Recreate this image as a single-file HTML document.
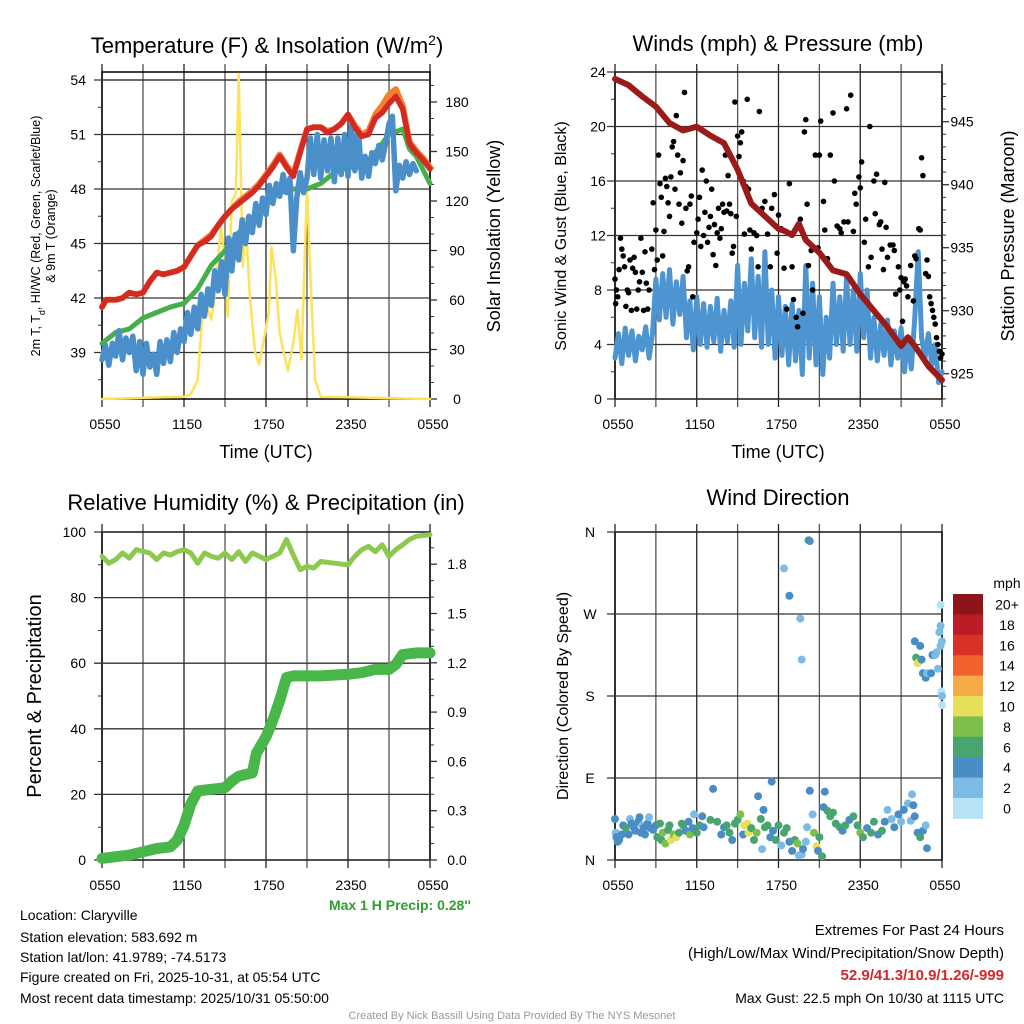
<!DOCTYPE html>
<html><head><meta charset="utf-8"><style>
html,body{margin:0;padding:0;background:#fff;}
svg{display:block;font-family:"Liberation Sans",Arial,sans-serif;}
</style></head><body>
<svg id="c" width="1024" height="1024" viewBox="0 0 1024 1024" xmlns="http://www.w3.org/2000/svg">
<rect x="0" y="0" width="1024" height="1024" fill="#fff"/>
<text x="267" y="53" font-size="22" text-anchor="middle">Temperature (F) &amp; Insolation (W/m<tspan baseline-shift="super" font-size="14">2</tspan>)</text>
<text x="778" y="51" font-size="22" text-anchor="middle">Winds (mph) &amp; Pressure (mb)</text>
<text x="266" y="510" font-size="22" text-anchor="middle">Relative Humidity (%) &amp; Precipitation (in)</text>
<text x="778" y="505" font-size="22" text-anchor="middle">Wind Direction</text>
<text x="266" y="458" font-size="18" text-anchor="middle">Time (UTC)</text>
<text x="778" y="458" font-size="18" text-anchor="middle">Time (UTC)</text>
<text transform="translate(40,236) rotate(-90)" font-size="12.5" text-anchor="middle">2m T, T<tspan baseline-shift="sub" font-size="9">d</tspan>, HI/WC (Red, Green, Scarlet/Blue)</text>
<text transform="translate(55,236) rotate(-90)" font-size="12.5" text-anchor="middle">&amp; 9m T (Orange)</text>
<text transform="translate(500,236) rotate(-90)" font-size="18" text-anchor="middle">Solar Insolation (Yellow)</text>
<text transform="translate(566,236) rotate(-90)" font-size="16" text-anchor="middle">Sonic Wind &amp; Gust (Blue, Black)</text>
<text transform="translate(1014,236) rotate(-90)" font-size="18" text-anchor="middle">Station Pressure (Maroon)</text>
<text transform="translate(41,696) rotate(-90)" font-size="20" text-anchor="middle">Percent &amp; Precipitation</text>
<text transform="translate(568,696) rotate(-90)" font-size="16" text-anchor="middle">Direction (Colored By Speed)</text>
<text x="471" y="910" font-size="14" font-weight="bold" fill="#2ca02c" text-anchor="end">Max 1 H Precip: 0.28''</text>
<g font-size="14">
<text x="20" y="920">Location: Claryville</text>
<text x="20" y="942">Station elevation: 583.692 m</text>
<text x="20" y="962">Station lat/lon: 41.9789; -74.5173</text>
<text x="20" y="982">Figure created on Fri, 2025-10-31, at 05:54 UTC</text>
<text x="20" y="1003">Most recent data timestamp: 2025/10/31 05:50:00</text>
</g>
<g font-size="15" text-anchor="end">
<text x="1004" y="935">Extremes For Past 24 Hours</text>
<text x="1004" y="958">(High/Low/Max Wind/Precipitation/Snow Depth)</text>
<text x="1004" y="980" font-weight="bold" fill="#d62728">52.9/41.3/10.9/1.26/-999</text>
<text x="1004" y="1003" font-size="14">Max Gust: 22.5 mph On 10/30 at 1115 UTC</text>
</g>
<text x="512" y="1019" font-size="11" fill="#999" text-anchor="middle">Created By Nick Bassill Using Data Provided By The NYS Mesonet</text>
<g id="layer"></g>
</svg>
<script>
// ---------- Panel 1 data ----------
const tempT = [0,0.3,1,1.5,2,2.5,3,3.5,4,4.5,5,5.5,6,6.5,7,7.5,8,8.5,9,9.5,10,10.5,11,11.5,12,12.5,13,13.5,14,14.5,15,15.5,16,16.5,17,17.5,18,18.5,19,19.5,20,20.5,21,21.5,22,22.5,23,23.5,24];
const temp2m = [41.5,41.9,41.9,42.0,42.3,42.2,42.3,42.9,43.4,43.3,43.4,43.5,43.7,44.3,44.9,45.1,45.4,46.0,46.5,46.9,47.2,47.5,47.8,48.2,48.7,49.2,49.8,49.2,48.7,50.0,51.3,51.4,51.4,51.1,51.3,51.6,52.1,51.4,50.9,51.0,51.9,52.2,52.7,53.1,52.4,50.5,50.0,49.6,49.1];
const temp9m = [41.5,41.9,41.9,42.0,42.3,42.2,42.3,42.9,43.4,43.3,43.4,43.5,43.7,44.3,44.9,45.2,45.5,46.0,46.5,46.9,47.3,47.6,47.9,48.3,48.8,49.3,49.9,49.3,48.8,50.1,51.3,51.4,51.4,51.2,51.3,51.6,52.1,51.5,51.0,51.2,52.1,52.6,53.2,53.5,52.6,50.6,50.1,49.7,49.2];
const dewT = [0,1,2,3,4,5,6,7,8,9,10,11,12,13,14,15,16,17,18,19,20,21,22,22.5,23,24];
const dewpoint = [39.5,40.1,40.3,40.9,41.2,41.5,41.7,42.5,43.8,44.6,45.6,46.3,47.2,47.8,48.0,48.0,48.3,48.9,49.2,49.2,50.0,51.0,51.3,50.2,49.8,48.3];
const heatIndex = [38.6,39.4,38.3,39.5, 38.8,40.2,38.6,39.8, 39.0,39.9,38.0,39.6, 37.8,39.5,38.2,38.9, 37.8,39.6,38.4,39.7, 38.5,40.1,39.0,40.3, 39.6,41.2,40.0,41.5, 40.3,42.2,41.0,42.5, 41.6,43.5,42.4,44.0, 42.2,45.3,43.5,45.5, 44.1,46.3,45.0,46.5, 45.6,47.2,46.0,47.5, 46.6,48.2,47.2,48.3, 47.6,48.8,47.8,48.6, 44.6,47.5,48.9,47.8, 48.6,50.8,48.8,51.0, 48.6,50.7,49.0,50.8, 48.4,50.8,48.8,51.0, 48.7,51.5,49.0,51.3, 48.6,49.8,48.7,50.0, 49.4,50.4,49.6,50.5, 51.6,52.0,47.9,49.3, 48.6,49.5,48.8,49.4, 49.0];
const hiStep = 0.25;
const insT = [0,6,6.5,7,7.3,7.6,8,8.3,8.7,9,9.2,9.5,9.8,10,10.3,10.5,10.8,11.2,11.5,11.8,12.2,12.4,12.7,13,13.3,13.6,14,14.3,14.6,15,15.3,15.6,16,24];
const insolation = [0,1.4,3,11.5,46,58,48,66,104,84,50,120,125,197,80,110,64,28,21,34,52,92,74,40,28,17,34,54,24,129,64,11.5,1.4,0];
// ---------- Panel 2 data ----------
const presT = [0,1,2,3,4,5,6,7,8,9,10,11,12,12.5,13,13.5,14,15,16,17,18,19,20,21,21.5,22,23,24];
const pressure = [948.4,947.9,947.0,946.2,944.9,944.3,944.6,943.9,943.3,941.2,938.5,937.5,936.5,936.3,936.0,936.9,935.6,934.6,933.2,932.9,931.3,930.0,928.7,927.2,927.9,927.2,925.6,924.5];
const windSpd = [3.0,4.8,2.6,5.2, 3.2,5.0,2.8,4.6, 3.6,5.3,3.0,4.8, 8.8,5.8,9.2,6.0, 9.5,5.5,8.6,6.2, 9.0,4.5,7.2,3.6, 7.5,4.0,7.0,3.8, 6.8,4.2,7.4,3.5, 6.5,4.2,7.2,3.8, 9.8,4.0,8.5,5.0, 10.3,4.5,9.0,3.8, 10.8,4.0,8.0,3.0, 7.5,3.2,6.8,2.5, 7.0,2.8,6.5,1.8, 9.8,3.0,8.5,2.5, 7.5,1.8,6.0,3.0, 8.5,4.0,7.5,3.5, 9.0,4.0,8.0,3.5, 9.2,4.5,8.0,3.0, 6.0,2.8,5.5,3.2, 5.8,2.5,5.0,3.0, 5.2,2.0,4.5,2.2, 6.0,10.8,4.5,3.0, 4.8,2.5,4.0,1.2, 2.0];
const windStep = 0.25;
const gustT = [0,0.05,0.1,0.2,0.3,0.4,0.5,0.6,0.7,0.8,0.9,1.0,1.1,1.2,1.3,1.4,1.5,1.6,1.7,1.8,1.9,2.0,2.1,2.2,2.3,2.4,2.5,2.7,2.8,2.9,3.0,3.1,3.2,3.3,3.4,3.5,3.6,3.7,3.8,3.9,4.0,4.1,4.2,4.3,4.4,4.5,4.6,4.7,4.8,4.9,5.0,5.1,5.2,5.3,5.4,5.5,5.6,5.7,5.8,6.0,6.1,6.2,6.3,6.4,6.5,6.6,6.7,6.8,6.9,7.0,7.1,7.2,7.3,7.4,7.5,7.6,7.7,7.8,7.9,8.0,8.1,8.2,8.3,8.4,8.5,8.6,8.7,8.8,8.9,9.0,9.1,9.2,9.3,9.4,9.5,9.6,9.7,9.8,9.9,10.0,10.2,10.4,10.5,10.6,10.8,11.0,11.2,11.4,11.5,11.7,11.9,12.0,12.2,12.4,12.6,12.8,13.0,13.1,13.3,13.4,13.6,13.8,13.9,14.0,14.1,14.2,14.4,14.5,14.7,14.9,15.0,15.1,15.3,15.4,15.6,15.8,16.0,16.1,16.3,16.5,16.6,16.8,17.0,17.1,17.3,17.5,17.6,17.7,17.9,18.0,18.1,18.3,18.4,18.6,18.7,18.8,19.0,19.1,19.2,19.4,19.5,19.6,19.7,19.8,19.9,20.0,20.2,20.4,20.5,20.6,20.8,20.9,21.0,21.1,21.2,21.3,21.4,21.5,21.7,21.9,22.0,22.1,22.3,22.4,22.5,22.6,22.8,22.9,23.0,23.1,23.2,23.3,23.4,23.5,23.6,23.7,23.8,23.9,24.0];
const gustSpd = [8.8,7,8,7.5,9.5,11.8,11,10.5,9.7,6.8,8,7.8,10.2,6.5,9.6,10.4,9.3,6.6,8,8.6,11.8,9.3,6.5,10.8,8.5,6.6,8,11,14.4,9.5,12.4,10.2,17.9,15.8,14.8,10.5,12.3,16.2,15.6,14.4,13.4,16.3,18.5,18.9,15.4,20.8,17.9,14.3,16.6,12.9,17.5,22.5,14.0,9.4,9.7,14.3,14.9,7.5,11.5,12.2,13.2,14.8,11.2,16.8,12.0,13.7,16.0,11.5,12.6,13.4,15.4,10.6,12.8,9.8,12.2,14.0,11.8,12.5,14.3,13.7,17.9,13.8,16.4,14.3,13.6,10.7,11.2,21.8,13.4,19.3,17.8,18.8,19.6,16.0,12.1,15.6,22.0,15.4,12.4,11.0,12.2,12.0,9.7,21.1,14.0,14.5,12.1,9.7,14.0,15.0,10.7,13.5,12.5,9.6,6.6,15.8,9.7,7.3,6.0,5.3,13.2,6.3,19.6,20.5,14.3,9.8,10.9,8.0,17.9,11.1,17.9,20.4,14.5,12.4,10.3,17.9,21.0,16.0,12.7,12.5,12.2,13.0,21.3,13.0,22.3,12.3,15.1,14.3,16.3,15.5,17.4,11.5,13.2,9.7,20.0,10.4,16.0,13.6,16.5,12.8,13.0,11.0,9.5,15.9,12.6,10.4,11.3,11.3,10.9,7.7,9.7,8.0,8.9,5.7,8.6,8.8,8.3,7.5,9.8,7.2,10.5,10.3,12.5,12.4,17.7,16.4,9.2,10.2,9.0,7.5,7.0,6.5,6.0,5.5,4.5,4.0,3.5,3.0,3.3];
// ---------- Panel 3 data ----------
const rhT = [0,0.5,1,1.5,2,2.5,3,3.5,4,4.5,5,5.5,6,6.5,7,7.5,8,8.5,9,9.5,10,10.5,11,11.5,12,13,13.5,14,14.5,15,15.5,16,17,18,18.5,19,19.5,20,20.5,21,21.5,22,22.5,23,24];
const rh = [92.6,90.5,91.6,93.6,92,94.6,94.1,93.6,91.6,93.6,93,94,94.6,93.6,90.5,93.6,92.6,92,93.6,91.6,94,91,93.6,92.6,91.6,93.6,97.7,93,88.5,89.5,89,91,90.5,90,92.6,94.6,95.6,94,96.1,92.6,94.6,96.1,97.7,98.7,99.2];
const precT = [0,1,2,3,4,5,5.5,6,6.5,7,8,9,9.5,10,11,11.3,12,12.5,13,13.5,14,16,18,19,20,21,21.5,22,23,24];
const precip = [0.01,0.02,0.03,0.05,0.07,0.08,0.12,0.21,0.34,0.42,0.43,0.44,0.48,0.51,0.53,0.65,0.75,0.85,0.97,1.11,1.12,1.12,1.13,1.14,1.16,1.16,1.19,1.25,1.26,1.26];
// ---------- Panel 4 data ----------
const dirT = [0,0.05,0.1,0.2,0.3,0.5,0.6,0.8,1.0,1.1,1.2,1.4,1.5,1.7,1.8,1.9,2.0,2.1,2.2,2.4,2.5,2.6,2.8,3.0,3.1,3.3,3.4,3.5,3.7,3.9,4.0,4.1,4.3,4.5,4.7,4.9,5.0,5.2,5.4,5.5,5.7,5.8,6.0,6.2,6.4,6.5,7.2,7.0,7.5,7.8,8.0,8.2,8.4,8.6,8.8,9.0,9.2,9.4,9.5,9.7,9.8,10.0,10.2,10.4,10.5,10.7,10.8,10.9,11.0,11.2,11.4,11.5,11.6,11.8,12.0,12.2,12.4,12.6,12.8,13.0,13.2,13.4,13.5,13.7,13.8,14.0,14.1,14.3,14.5,14.6,14.8,14.9,15.0,15.2,15.3,15.4,15.6,15.8,16.0,16.2,16.5,16.7,16.9,17.2,17.5,17.8,18.0,18.2,18.5,18.8,19.0,19.3,19.6,19.8,20.0,20.3,20.5,20.8,21.0,21.2,21.5,21.7,22.0,22.2,22.4,22.6,22.8,22.9,21.8,21.9,12.4,12.8,13.6,13.7,14.2,14.3,22.0,22.1,22.3,22.2,22.4,22.5,22.6,22.8,22.9,23.2,23.3,23.5,23.6,23.7,23.9,24.0,23.8,23.9,23.9,23.95,24.0,24.0];
const dirDeg = [45,30,25,20,22,28,38,35,28,45,40,35,32,42,47,30,38,35,28,40,47,35,33,38,25,40,22,30,18,33,38,22,28,25,30,40,38,32,42,28,35,50,30,38,48,36,78,44,42,28,36,38,30,22,40,44,50,28,38,40,30,35,22,30,70,45,12,55,36,38,25,86,32,22,38,16,30,35,20,10,22,18,5,6,12,20,36,76,50,30,15,10,25,4,58,75,54,48,52,40,36,32,38,44,48,38,30,25,35,30,42,28,32,42,55,45,36,50,42,55,62,43,48,30,25,32,38,13,72,60,320,290,265,220,351,350,240,222,218,216,235,220,205,200,205,205,225,225,228,210,235,240,250,257,280,185,180,170];
const dirSpd = [4.5,3,5,4.5,5,5,4,6,4.5,3,4.5,5,4,4.5,4,4.5,3,5,4,4.5,3,4.5,5,4.5,7,7,6,8,8,7,6,10,8,10,7,6,7,5,4,8,5,3,6,6,4,5,4,6,7,5,5,6,6,4,6,7,8,5,10,10,10,6,6,8,4,6,2,5,7,6,5,4,5,6,6,3,6,7,5,4,7,8,2,3,4,3,3,4,3,8,10,4,6,6,4,4,6,6,7,6,7,5,6,4,6,7,8,6,4,6,7,5,6,4,3,3,4,4,3,4,3,3,4,4,6,4,3,4,3,4,2.5,4,2.5,2.5,6,4,4,6,8,10,4,4,4,4,3,4,4,3,3,3,3,3,3,2,1,1,3,1];
const speedBins = ["0","2","4","6","8","10","12","14","16","18","20+"];
const speedColors = ["#b5e2f7","#7cbbe5","#4a8dc5","#48a56f","#7cc04b","#e5e057","#f6a947","#f0612d","#da3127","#bc1d24","#8d1519"];
const xTickLabels = ["0550","1150","1750","2350","0550"];
const tempTicks = [39,42,45,48,51,54];
const insTicks = [0,30,60,90,120,150,180];
const windTicks = [0,4,8,12,16,20,24];
const presTicks = [925,930,935,940,945];
const rhTicks = [0,20,40,60,80,100];
const precTicks = ["0.0","0.3","0.6","0.9","1.2","1.5","1.8"];
const dirTicks = ["N","E","S","W","N"];

const NS = "http://www.w3.org/2000/svg";
const layer = document.getElementById('layer');
function mk(tag, attrs, parent){ const e=document.createElementNS(NS,tag); for(const k in attrs) e.setAttribute(k,attrs[k]); (parent||layer).appendChild(e); return e; }
function txt(x,y,s,size,anchor,parent){ const t=mk('text',{x:x,y:y,'font-size':size,'text-anchor':anchor},parent); t.textContent=s; return t; }

const P1={L:102,R:430,T:72,B:399}, P2={L:615,R:942,T:72,B:399}, P3={L:102,R:430,T:532,B:860}, P4={L:615,R:942,T:532,B:860};
const xs = (P,t)=>P.L+t/24*(P.R-P.L);
const yTemp = v=>80+(54-v)*54.5/3;
const yIns = v=>399-v*49.5/30;
const yWind = v=>399-v*(327/24);
const yPres = v=>373.7-(v-925)*12.6;
const yRh = v=>860-v*3.28;
const yPrec = v=>860-v/0.3*49.3;
const yDir = v=>860-v*(328/360);

function frame(P,name){
  const g=mk('g',{});
  
  
  for(let k=0;k<=8;k++){ const x=P.L+k*(P.R-P.L)/8; mk('line',{x1:x,y1:P.T-8,x2:x,y2:P.B+8,stroke:(k%2?'#555':'#222'),'stroke-width':1.3},g); }
  mk('rect',{x:P.L,y:P.T,width:P.R-P.L,height:P.B-P.T,fill:'none',stroke:'#000','stroke-width':1.5},g);
  const lb=mk('g',{'font-size':14},g);
  xTickLabels.forEach((s,i)=>{ const x=P.L+i*(P.R-P.L)/4+3; txt(x,P.B+30,s,14,'middle',lb); });
  return g;
}
function hgrid(g,P,y){ mk('line',{x1:P.L-8,y1:y,x2:P.R,y2:y,stroke:'#333','stroke-width':1.3},g); }
function series(pts,color,w,name){
  const p=mk('polyline',{points:pts.map(a=>a[0].toFixed(1)+','+a[1].toFixed(1)).join(' '),fill:'none',stroke:color,'stroke-width':w,'stroke-linejoin':'round','stroke-linecap':'round'});
  
  
  return p;
}

// ---- Panel 1 ----
let g1=frame(P1,'temperature');
mk('line',{x1:P1.L,y1:80,x2:P1.R,y2:80,stroke:'#333','stroke-width':1.3},g1);
tempTicks.forEach(v=>{ const y=yTemp(v); hgrid(g1,P1,y); txt(86,y+5,String(v),14,'end',g1); });
for(let v=37.5;v<=52.5;v+=3){ const y=yTemp(v); mk('line',{x1:P1.L-4,y1:y,x2:P1.L,y2:y,stroke:'#333'},g1); }
insTicks.forEach(v=>{ const y=yIns(v); mk('line',{x1:P1.R,y1:y,x2:P1.R+7,y2:y,stroke:'#333','stroke-width':1.3},g1); txt(457,y+5,String(v),14,'middle',g1); });
for(let v=10;v<=190;v+=10){ if(v%30){ const y=yIns(v); mk('line',{x1:P1.R,y1:y,x2:P1.R+4,y2:y,stroke:'#333'},g1);} }
series(insT.map((t,i)=>[xs(P1,t),yIns(insolation[i])]),'#fde25a',2.5,'insolation-line');
series(dewT.map((t,i)=>[xs(P1,t),yTemp(dewpoint[i])]),'#45b04a',5,'dewpoint-line');
series(heatIndex.map((v,i)=>[xs(P1,i*hiStep),yTemp(v)]),'#4a8fca',5.5,'heat-index-line');
series(tempT.map((t,i)=>[xs(P1,t),yTemp(temp9m[i])]),'#f47f2e',6,'temp-9m-line');
series(tempT.map((t,i)=>[xs(P1,t),yTemp(temp2m[i])]),'#d42a24',5.5,'temp-2m-line');

// ---- Panel 2 ----
let g2=frame(P2,'winds');
windTicks.forEach(v=>{ const y=yWind(v); hgrid(g2,P2,y); txt(598,y+5,String(v),14,'middle',g2); });
for(let v=2;v<24;v+=4){ const y=yWind(v); mk('line',{x1:P2.L-4,y1:y,x2:P2.L,y2:y,stroke:'#333'},g2); }
for(let v=923;v<=949;v++){ const y=yPres(v); if(y<P2.T||y>P2.B) continue; const M=v%5===0; mk('line',{x1:P2.R,y1:y,x2:P2.R+(M?7:4),y2:y,stroke:'#333','stroke-width':M?1.3:1},g2); }
presTicks.forEach(v=>{ const y=yPres(v); txt(962,y+5,String(v),14,'middle',g2); });
series(windSpd.map((v,i)=>[xs(P2,i*windStep),yWind(v)]),'#4d94d0',5,'sustained-wind-line');
gustT.forEach((t,i)=>{ const c=mk('circle',{cx:xs(P2,t).toFixed(1),cy:yWind(gustSpd[i]).toFixed(1),r:2.8,fill:'#000'});
  
   });
series(presT.map((t,i)=>[xs(P2,t),yPres(pressure[i])]),'#9b1b1b',6,'pressure-line');

// ---- Panel 3 ----
let g3=frame(P3,'humidity');
rhTicks.forEach(v=>{ const y=yRh(v); hgrid(g3,P3,y); txt(86,y+5,String(v),14,'end',g3); });
for(let v=10;v<100;v+=20){ const y=yRh(v); mk('line',{x1:P3.L-4,y1:y,x2:P3.L,y2:y,stroke:'#333'},g3); }
for(let k=0;k<=19;k++){ const v=k*0.1; const y=yPrec(v); if(y<P3.T) continue; const M=k%3===0; mk('line',{x1:P3.R,y1:y,x2:P3.R+(M?7:4),y2:y,stroke:'#333','stroke-width':M?1.3:1},g3); }
precTicks.forEach(s=>{ const y=yPrec(parseFloat(s)); txt(457,y+5,s,14,'middle',g3); });
series(rhT.map((t,i)=>[xs(P3,t),yRh(rh[i])]),'#8cc94e',5,'rh-line');
series(precT.map((t,i)=>[xs(P3,t),yPrec(precip[i])]),'#48b649',11,'precip-line');

// ---- Panel 4 ----
let g4=frame(P4,'direction');
dirTicks.forEach((s,i)=>{ const y=yDir(i*90); hgrid(g4,P4,y); txt(590,y+5,s,14,'middle',g4); });
function binIdx(s){ return Math.min(10,Math.floor(s/2)); }
dirT.forEach((t,i)=>{ const c=mk('circle',{cx:xs(P4,t).toFixed(1),cy:yDir(dirDeg[i]).toFixed(1),r:4,fill:speedColors[binIdx(dirSpd[i])]});
  
   });
const cb=mk('g',{});


txt(1007,588,'mph',14,'middle',cb);
for(let k=0;k<11;k++){ const idx=10-k; const y=594+k*20.4;
  mk('rect',{x:953,y:y,width:30,height:20.8,fill:speedColors[idx]},cb);
  txt(1007,y+15.5,speedBins[idx],14,'middle',cb); }
</script>
</body></html>
